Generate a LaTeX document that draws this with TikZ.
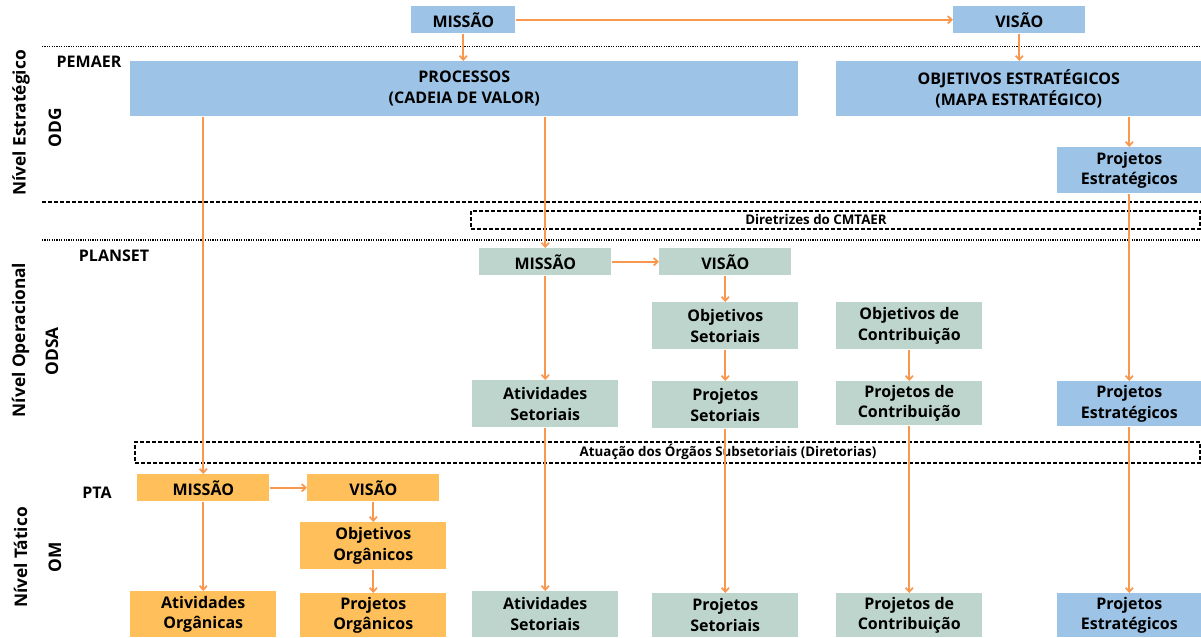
\documentclass[tikz,border=0pt]{standalone}
\usepackage{fontspec}
\setmainfont{Open Sans}
\usetikzlibrary{arrows.meta}
\definecolor{bluefill}{HTML}{9DC3E6}
\definecolor{greenfill}{HTML}{BDD5CC}
\definecolor{orangefill}{HTML}{FFBF5A}
\definecolor{linkcol}{HTML}{F8984F}

\begin{document}
\begin{tikzpicture}[x=0.75pt,y=-0.75pt,
  font=\fontsize{12}{15.5}\selectfont\bfseries,
  wh/.style 2 args={minimum width=#1*0.75pt, minimum height=#2*0.75pt},
  box/.style={anchor=north west, inner sep=0pt, align=center, text=black},
  bluebx/.style={box, fill=bluefill},
  greenbx/.style={box, fill=greenfill},
  orangebx/.style={box, fill=orangefill},
  dashbox/.style={anchor=north west, inner sep=0pt, draw=black, line width=1.5pt, dash pattern=on 3pt off 1.5pt},
  note/.style={inner sep=0pt, font=\fontsize{10}{12}\selectfont\bfseries},
  tag/.style={inner sep=0pt, font=\fontsize{12}{14}\selectfont\bfseries},
  level/.style={inner sep=0pt, rotate=90, font=\fontsize{13}{15}\selectfont\bfseries},
  dotline/.style={line width=1pt, dash pattern=on 0.9pt off 0.9pt},
  dashline/.style={line width=1.5pt, dash pattern=on 3pt off 1.5pt},
  link/.style={draw=linkcol, line width=1.3pt, -{Straight Barb[length=3pt,width=5.5pt]}},
]
\useasboundingbox (0,0) rectangle (1201,637);

% level separators
\draw[dotline] (42,46.5) -- (1201,46.5);
\draw[dashline] (42,202) -- (1201,202);
\draw[dotline] (42,240) -- (1201,240);

% level names
\node[level] (lvlE) at (21,123) {Nível Estratégico};
\node[level] (odg) at (55,127.5) {ODG};
\node[level] (lvlO) at (20.5,340) {Nível Operacional};
\node[level] (odsa) at (52,351.5) {ODSA};
\node[level] (lvlT) at (20.5,557.5) {Nível Tático};
\node[level] (om) at (55,557.5) {OM};

% plan names
\node[tag] (pemaer) at (89,61.5) {PEMAER};
\node[tag] (planset) at (114,255.5) {PLANSET};
\node[tag] (pta) at (97,492.5) {PTA};

% dashed bands
\node[dashbox, wh={729}{18}] (dirbox) at (470,210) {};
\node[note] (dirtext) at (816,219) {Diretrizes do CMTAER};
\node[dashbox, wh={1065}{21}] (atubox) at (134,441) {};
\node[note] (atutext) at (728,451.5) {Atuação dos Órgãos Subsetoriais (Diretorias)};

% strategic level
\node[bluebx, wh={104}{27}] (tm) at (411,6) {MISSÃO};
\node[bluebx, wh={132}{27}] (tv) at (953,6) {VISÃO};
\node[bluebx, wh={668}{55}] (proc) at (130,61) {PROCESSOS\\(CADEIA DE VALOR)};
\node[bluebx, wh={365}{55}] (obj) at (836,61) {OBJETIVOS ESTRATÉGICOS\\(MAPA ESTRATÉGICO)};
\node[bluebx, wh={144}{46}] (pe1) at (1057,147) {Projetos\\Estratégicos};

% operational level
\node[greenbx, wh={132}{27}] (gm) at (479,248) {MISSÃO};
\node[greenbx, wh={132}{27}] (gv) at (659,248) {VISÃO};
\node[greenbx, wh={146}{47}] (os) at (652,302) {Objetivos\\Setoriais};
\node[greenbx, wh={146}{47}] (oc) at (836,302) {Objetivos de\\Contribuição};
\node[greenbx, wh={146}{47}] (as1) at (472,380) {Atividades\\Setoriais};
\node[greenbx, wh={146}{47}] (ps1) at (652,381) {Projetos\\Setoriais};
\node[greenbx, wh={146}{44}] (pc1) at (836,381) {Projetos de\\Contribuição};
\node[bluebx, wh={144}{45}] (pe2) at (1057,381) {Projetos\\Estratégicos};

% tactical level
\node[orangebx, wh={132}{27}] (omis) at (137,474) {MISSÃO};
\node[orangebx, wh={132}{27}] (ovis) at (307,474) {VISÃO};
\node[orangebx, wh={146}{47}] (oobj) at (300,522) {Objetivos\\Orgânicos};
\node[orangebx, wh={146}{46}] (oati) at (130,591) {Atividades\\Orgânicas};
\node[orangebx, wh={146}{44}] (opro) at (300,593) {Projetos\\Orgânicos};
\node[greenbx, wh={146}{46}] (as2) at (472,591) {Atividades\\Setoriais};
\node[greenbx, wh={146}{44}] (ps2) at (652,593) {Projetos\\Setoriais};
\node[greenbx, wh={146}{44}] (pc2) at (836,593) {Projetos de\\Contribuição};
\node[bluebx, wh={144}{44}] (pe3) at (1057,593) {Projetos\\Estratégicos};

% connectors
\draw[link] (tm.east) -- (tv.west);
\draw[link] (tm.south) -- (tm.south |- proc.north);
\draw[link] (tv.south) -- (tv.south |- obj.north);
\draw[link] (obj.south -| pe1.north) -- (pe1.north);
\draw[link] (proc.south -| omis.north) -- (omis.north);
\draw[link] (proc.south -| gm.north) -- (gm.north);
\draw[link] (pe1.south) -- (pe2.north);

\draw[link] (gm.east) -- (gv.west);
\draw[link] (gm.south) -- (as1.north);
\draw[link] (gv.south) -- (os.north);
\draw[link] (os.south) -- (ps1.north);
\draw[link] (oc.south) -- (pc1.north);

\draw[link] (as1.south) -- (as2.north);
\draw[link] (ps1.south) -- (ps2.north);
\draw[link] (pc1.south) -- (pc2.north);
\draw[link] (pe2.south) -- (pe3.north);

\draw[link] (omis.east) -- (ovis.west);
\draw[link] (omis.south) -- (oati.north);
\draw[link] (ovis.south) -- (oobj.north);
\draw[link] (oobj.south) -- (opro.north);
\end{tikzpicture}
\end{document}
